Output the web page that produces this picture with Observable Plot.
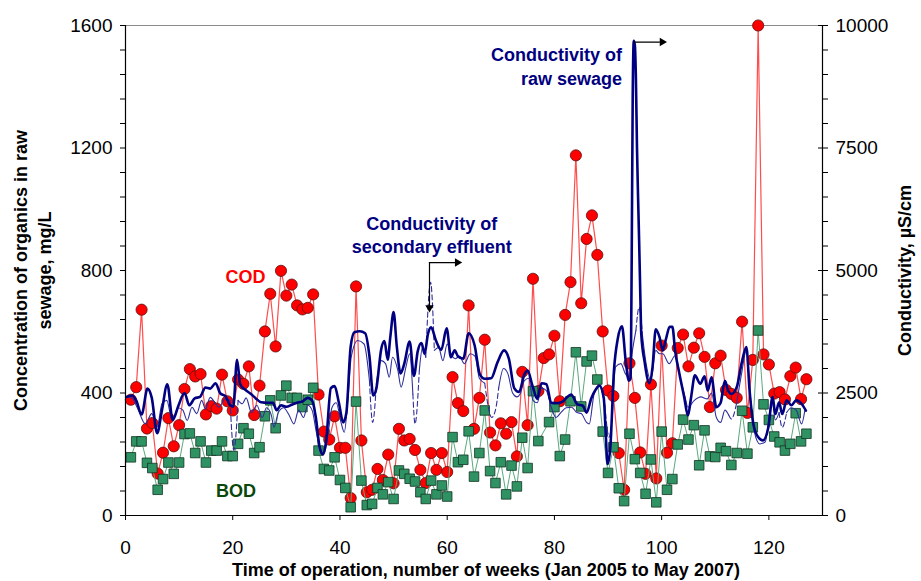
<!DOCTYPE html>
<html><head><meta charset="utf-8">
<script src="https://cdn.jsdelivr.net/npm/d3@7"></script>
<script src="https://cdn.jsdelivr.net/npm/@observablehq/plot@0.6"></script>
<style>body{margin:0;background:#fff}</style>
</head><body><div id="chart"></div>
<script>
// ---- data ----
const codWeek = d3.range(1, 128);
const cod = [378,419,672,284,302,137,205,318,226,295, 413,478,454,462,330,357,349,460,373,343,
 444,430,487,328,424,601,724,552,799,718, 754,686,673,678,722,395,274,248,324,221,
 221,57,748,245,76,84,152,116,199,105, 283,245,250,214,149,106,204,149,204,142,
 452,367,341,686,283,384,574,271,229,301, 267,305,193,469,295,773,406,514,526,587,
 373,655,762,1176,693,903,980,851,601,408, 390,204,84,497,384,206,136,428,121,555,
 205,236,547,591,487,548,595,518,354,497, 522,410,397,384,633,335,508,1600,526,493,
 398,403,379,455,483,380,445];
const bodWeek = d3.range(1, 128);
const bod = [190,242,242,172,155,84,119,173,136,173, 266,268,204,242,173,212,212,242,194,194,
 234,285,267,204,223,324,376,285,392,424, 384,384,354,378,417,212,152,147,190,116,
 90,27,372,114,34,38,90,69,109,54, 147,136,120,111,76,54,114,69,98,62,
 256,174,182,275,127,204,343,145,106,174, 69,163,95,254,155,406,243,null,305,354,
 194,248,373,533,356,503,522,444,274,139, 223,89,47,267,184,139,71,183,43,274,
 84,119,232,313,248,295,164,278,193,191, 221,210,165,204,342,202,288,604,363,312,
 258,239,212,234,334,242,267];

const rawWeek = [0.2,1.2,2.0,3.0,4.1,4.9,5.9,6.8,7.8,8.8,9.9,11.0,11.9,12.9,13.9,14.9,15.8,16.8,17.7,18.6,
 19.5,20.1,20.8,21.4,22.4,23.4,24.3,25.3,26.5,27.5,28.2,29.0,30.0,31.0,32.0,33.0,34.0,34.8,35.5,36.2,
 36.8,37.4,38.3,39.0,39.8,40.6,41.2,42.0,42.7,43.7,44.7,45.5,46.2,46.8,47.7,48.3,48.9,49.4,50.0,50.6,
 51.3,52.0,53.0,53.8,54.5,55.2,55.8,56.4,57.0,57.9,58.9,59.9,60.7,61.4,62.0,63.0,64.0,65.1,66.1,67.0,
 68.2,69.4,70.6,71.5,72.5,73.4,74.4,75.0,75.9,76.8,77.6,78.5,79.4,80.4,81.3,82.2,83.1,84.3,85.3,86.0,
 86.9,87.6,88.4,89.2,89.6,89.9,90.4,91.1,91.8,92.6,93.3,93.9,94.2,94.4,94.6,94.8,95.0,95.2,95.4,95.6,
 95.8,96.0,96.2,96.8,97.7,98.3,98.9,99.6,100.2,100.8,101.5,102.0,102.5,103.3,104.2,104.9,105.5,106.2,107.2,108.0,
 108.6,109.3,110.2,111.0,111.8,112.4,113.0,114.0,114.9,115.8,116.4,117.1,118.0,118.9,119.9,120.7,121.2,121.9,122.5,123.3,
 124.2,125.1,126.1,126.9];
const rawCond = [2420,2450,2350,2060,2590,2400,1680,2150,2680,1950,2250,2500,2250,2390,2420,2610,2590,2700,2490,2440,
 2250,2220,3180,2680,2560,2480,2390,2310,2300,2300,2150,2250,2220,2260,2300,2330,2400,2350,2000,1400,
 1250,1500,2600,2640,2300,1900,2100,3450,3740,3760,3720,3250,2450,2600,3400,3560,3180,3650,4150,3450,
 2900,3100,3550,2850,3350,3520,3300,3700,3840,3570,3380,3820,3230,3370,3250,3200,3720,3480,2880,2790,
 2800,3130,3370,3200,2600,2520,2880,2960,2650,2380,2700,2680,2300,2290,2310,2400,2470,2270,2240,2100,
 2400,2550,2650,2400,1600,1050,1350,2950,3600,3860,3150,2750,2800,5000,8500,9690,9600,8900,7500,6500,
 5600,4600,3700,3150,2700,3030,3800,3640,3370,3600,3850,3850,3370,2900,2420,2040,2420,2860,2690,2840,
 2550,2820,2210,2300,2750,2550,2480,2620,3100,3440,2550,1870,1600,1530,1800,2420,2070,2310,2070,2350,
 2250,2350,2280,2140];

const effWeek = [0.2,1.2,2.2,3.7,4.9,5.9,6.8,7.7,8.7,9.8,10.7,11.5,12.4,13.3,14.2,14.9,15.8,16.7,17.4,18.6,
 19.5,20.2,21.0,21.8,22.5,23.5,24.5,25.5,26.3,27.2,27.7,28.5,29.5,30.5,31.4,32.3,33.2,34.0,34.8,35.6,
 36.3,37.0,37.7,38.5,39.3,40.2,40.8,41.5,42.1,43.3,44.5,45.5,46.1,46.8,47.7,48.5,49.2,49.8,50.8,51.4,
 52.3,53.0,53.6,54.0,54.8,55.4,56.0,56.9,57.6,58.4,59.2,60.0,60.7,61.5,62.3,63.2,64.3,65.2,66.0,67.0,
 68.3,69.0,69.6,70.5,71.3,72.2,73.0,73.6,74.4,75.2,76.0,76.8,77.6,78.5,79.4,80.3,81.2,82.2,83.2,84.2,
 85.0,86.0,86.5,87.4,88.4,89.4,90.2,90.8,91.4,92.4,93.2,93.9,94.6,95.2,95.8,96.4,97.1,98.0,98.9,99.6,
 100.2,101.4,102.5,103.5,104.4,104.9,106.1,107.3,108.5,109.3,110.2,111.0,111.8,112.5,113.0,114.0,114.9,115.8,116.5,117.3,
 118.3,119.3,120.6,121.2,121.9,122.5,123.3,124.2,125.1,126.1,126.7];
const effCond = [2420,2400,2200,1870,2080,1800,2280,2350,1940,2200,2150,1940,2210,2080,2350,2180,2410,2300,2210,2380,
 2350,1330,2350,2280,2400,2100,2250,2000,2200,2050,1800,2100,2200,2050,1870,2150,2000,2250,2150,1700,
 1350,1250,1600,2200,2300,1900,1700,2400,3230,3570,3500,2750,1900,2700,3160,3100,2820,3230,2960,2620,
 3030,3300,2480,1870,2960,3430,3230,4760,3370,3430,3160,3500,3300,3200,3250,3100,3300,3250,2800,2700,
 2000,2150,2600,3000,2900,2500,2420,2480,2750,2800,2350,2300,2600,2550,2210,2000,2100,2200,2210,2100,
 2080,1900,1870,2480,2650,2250,1600,2000,3030,3100,2900,2820,3400,3780,4250,3700,3100,2760,3370,3300,
 3300,3100,3260,2800,2400,2210,2350,2420,2380,2500,2000,1900,2150,2050,1970,2300,2890,3370,2500,1700,
 1460,1500,2350,1950,2100,1800,2100,2200,2150,1870,2140];
// week ranges where the effluent line is drawn dashed
const effDashed = [[19.5,21.0],[45.5,46.8],[53.6,54.8],[56.0,57.6],[67.0,69.6],[89.4,90.8],[95.2,96.4],[112.5,114.0],[121.9,123.3]];

// axis tick labels
const leftTicks = [0, 400, 800, 1200, 1600];
const rightTicks = [0, 2500, 5000, 7500, 10000];
const xTicks = [0, 20, 40, 60, 80, 100, 120];

// annotation texts
const annotations = [
  {w: 22.4, v: 784, text: "COD", color: "#ff0000", anchor: "middle"},
  {w: 20.6, v: 85, text: "BOD", color: "#0a470a", anchor: "middle"},
  {w: 57.1, v: 919, text: "Conductivity of\nsecondary effluent", color: "#000080", anchor: "middle"},
  {w: 92.6, v: 1469, text: "Conductivity of\nraw sewage", color: "#000080", anchor: "end"}
];
const arrowLines = [
  [{w: 56.7, v: 826}, {w: 61.6, v: 826}],
  [{w: 56.7, v: 826}, {w: 56.7, v: 685}],
  [{w: 94.8, v: 1546}, {w: 99.6, v: 1546}]
];
const arrowHeads = [
  {w: 61.9, v: 826, rot: 90},
  {w: 56.7, v: 679, rot: 180},
  {w: 100.1, v: 1546, rot: 90}
];

// ---- build ----
const k = 1600 / 10000; // conductivity -> left scale units
const codData = codWeek.map((w, i) => ({w, v: cod[i]}));
const bodData = bodWeek.map((w, i) => ({w, v: bod[i]})).filter(d => d.v != null);
const rawData = rawWeek.map((w, i) => ({w, v: rawCond[i] * k}));
const inside = w => effDashed.some(([a, b]) => w > a && w < b);
const within = w => effDashed.some(([a, b]) => w >= a && w <= b);
const effData = effWeek.map((w, i) => ({w, c: effCond[i] * k}));
const effSolid = effData.map(d => ({w: d.w, v: inside(d.w) ? NaN : d.c}));
const effDash = effData.map(d => ({w: d.w, v: within(d.w) ? d.c : NaN}));

const font = "'Liberation Sans', Arial, Helvetica, sans-serif";

const chart = Plot.plot({
  width: 921, height: 581,
  marginLeft: 125, marginRight: 99, marginTop: 25, marginBottom: 66,
  style: {fontFamily: font, fontSize: "19px", background: "#fff", color: "#000"},
  x: {domain: [0, 130], axis: null},
  y: {domain: [0, 1600], axis: null},
  marks: [
    Plot.ruleY([1600], {stroke: "#8c8c8c", strokeWidth: 1.2}),
    Plot.line(codData, {x: "w", y: "v", stroke: "#ff4d4d", strokeWidth: 1.2}),
    Plot.dot(codData, {x: "w", y: "v", r: 5.6, fill: "#ff0000", stroke: "#5a1010", strokeWidth: 0.8}),
    Plot.line(bodData, {x: "w", y: "v", stroke: "#5aa97e", strokeWidth: 1}),
    Plot.dot(bodData, {x: "w", y: "v", symbol: "square", r: 5.4, fill: "#2f9263", stroke: "#123322", strokeWidth: 0.8}),
    Plot.line(effSolid, {x: "w", y: "v", stroke: "#2e2e9c", strokeWidth: 1.1, curve: "monotone-x"}),
    Plot.line(effDash, {x: "w", y: "v", stroke: "#2e2e9c", strokeWidth: 1.1, strokeDasharray: "5,3", curve: "monotone-x"}),
    Plot.line(rawData, {x: "w", y: "v", stroke: "#000080", strokeWidth: 2.6, curve: "monotone-x"}),
    // axes lines
    Plot.ruleX([0], {stroke: "#000", strokeWidth: 1.2}),
    Plot.ruleX([130], {stroke: "#000", strokeWidth: 1.2}),
    Plot.ruleY([0], {stroke: "#000", strokeWidth: 1.2}),
    Plot.axisX({ticks: xTicks, tickSize: 5, tickPadding: 20, label: null, fontSize: 19}),
    Plot.axisY({anchor: "left", ticks: d3.range(0, 1601, 80), tickSize: 5, tickPadding: 8, label: null, fontSize: 19,
      tickFormat: d => leftTicks.includes(d) ? String(d) : ""}),
    Plot.axisY({anchor: "right", ticks: d3.range(0, 1601, 80), tickSize: 5, tickPadding: 8, label: null, fontSize: 19,
      tickFormat: d => { const c = Math.round(d / k); return rightTicks.includes(c) ? String(c) : ""; }}),
    // inward major ticks on the right axis
    Plot.axisY({anchor: "right", ticks: leftTicks, tickSize: 5, dx: -5, label: null, tickFormat: () => ""}),
    // axis titles
    Plot.text(["Concentration of organics in raw\nsewage, mg/L"], {frameAnchor: "left", dx: -94, rotate: -90,
      fontWeight: "bold", fontSize: 18, lineHeight: 1.3, textAnchor: "middle", lineAnchor: "middle"}),
    Plot.text(["Conductivity, µS/cm"], {frameAnchor: "right", dx: 83, rotate: -90,
      fontWeight: "bold", fontSize: 18, textAnchor: "middle", lineAnchor: "middle"}),
    Plot.text(["Time of operation, number of weeks (Jan 2005 to May 2007)"], {frameAnchor: "bottom", dx: 12, dy: 55,
      fontWeight: "bold", fontSize: 18, textAnchor: "middle", lineAnchor: "middle"}),
    // annotations
    ...annotations.map(a => Plot.text([a], {x: "w", y: "v", text: "text", fill: a.color, fontWeight: "bold",
      fontSize: 18, lineHeight: 1.3, textAnchor: a.anchor, lineAnchor: "middle"})),
    ...arrowLines.map(seg => Plot.line(seg, {x: "w", y: "v", stroke: "#000", strokeWidth: 1.2})),
    ...arrowHeads.map(h => Plot.dot([h], {x: "w", y: "v", symbol: "triangle2", r: 4, fill: "#000", rotate: h.rot}))
  ]
});
document.getElementById("chart").appendChild(chart);
</script>
</body></html>
